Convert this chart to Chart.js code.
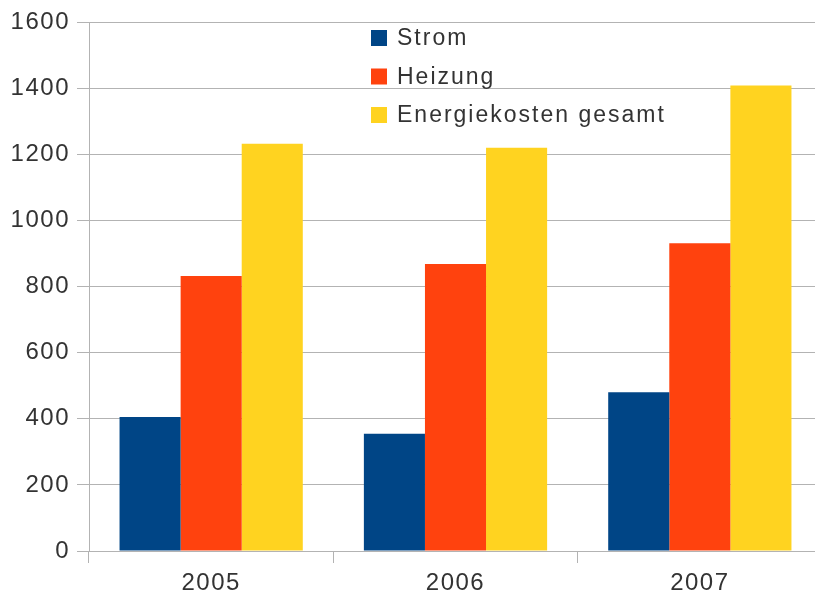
<!DOCTYPE html>
<html>
<head>
<meta charset="utf-8">
<script src="https://cdn.jsdelivr.net/npm/chart.js@4/dist/chart.umd.min.js"></script>
<style>
  html, body { margin: 0; padding: 0; background: #fff; overflow: hidden; }
  #wrap { position: absolute; left: 0; top: 0; width: 830px; height: 599px; }
</style>
</head>
<body>
<div id="wrap"><canvas id="chart" width="830" height="599"></canvas></div>
<script>
// Jahre und Werte
const jahre = ['2005', '2006', '2007']
const strom = [405, 355, 480]
const heizung = [832, 868, 931]
const gesamt = [1232, 1220, 1408]
const yTicks = [0, 200, 400, 600, 800, 1000, 1200, 1400, 1600]

const farben = ['#004586', '#ff420e', '#ffd320']
const schrift = 'Liberation Sans, Arial, sans-serif'

// etwas breitere Schrift wie im Original
const abstandPlugin = {
  id: 'abstand',
  beforeDraw(chart) { chart.ctx.letterSpacing = '1.5px' }
}

// Legende als Liste oben in der Mitte der Zeichenfläche
const legendePlugin = {
  id: 'legende',
  afterDraw(chart) {
    const ctx = chart.ctx
    ctx.save()
    ctx.font = '23px ' + schrift
    ctx.letterSpacing = '2px'
    ctx.textBaseline = 'middle'
    chart.data.datasets.forEach((ds, i) => {
      const y = 38 + i * 38.5
      ctx.fillStyle = ds.backgroundColor
      ctx.fillRect(371, y - 8, 16, 16)
      ctx.fillStyle = '#333333'
      ctx.fillText(ds.label, 397, y + 1)
    })
    ctx.restore()
  }
}

new Chart(document.getElementById('chart'), {
  type: 'bar',
  data: {
    labels: jahre,
    datasets: [
      { label: 'Strom', data: strom, backgroundColor: farben[0] },
      { label: 'Heizung', data: heizung, backgroundColor: farben[1] },
      { label: 'Energiekosten gesamt', data: gesamt, backgroundColor: farben[2] }
    ]
  },
  options: {
    responsive: false,
    animation: false,
    layout: { padding: { top: 22, right: 8, left: 0, bottom: 0 } },
    datasets: { bar: { categoryPercentage: 0.75, barPercentage: 1.0, borderWidth: 0 } },
    plugins: { legend: { display: false }, tooltip: { enabled: false } },
    scales: {
      x: {
        grid: { offset: true, drawOnChartArea: false, drawTicks: true, tickLength: 12, color: '#b3b3b3' },
        border: { color: '#b3b3b3' },
        ticks: { color: '#333333', font: { family: schrift, size: 24 }, padding: 6 },
        afterFit: s => { s.height = 48 }
      },
      y: {
        min: 0,
        max: 1600,
        afterBuildTicks: s => { s.ticks = yTicks.map(v => ({ value: v })) },
        grid: { color: '#b3b3b3', tickLength: 12 },
        border: { color: '#b3b3b3' },
        ticks: { color: '#333333', font: { family: schrift, size: 24 }, padding: 7, callback: v => String(v) },
        afterFit: s => { s.width = 89 }
      }
    }
  },
  plugins: [abstandPlugin, legendePlugin]
})
</script>
</body>
</html>
